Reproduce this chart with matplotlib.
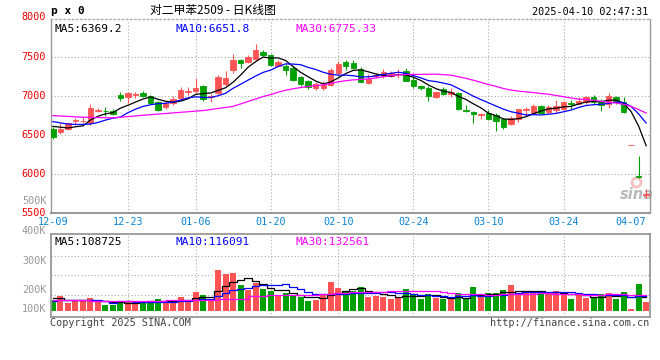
import matplotlib
matplotlib.use("Agg")
import matplotlib.pyplot as plt
import numpy as np
import pandas as pd

plt.rcParams["font.family"] = ["DejaVu Sans Mono"]

# trading days shown in the window
holidays = ["2025-01-01", "2025-01-28", "2025-01-29", "2025-01-30", "2025-01-31",
            "2025-02-03", "2025-02-04", "2025-04-04"]
tick_dates = ["12-09", "12-23", "01-06", "01-20", "02-10", "02-24", "03-10", "03-24", "04-07"]
price_ticks = [5500, 6000, 6500, 7000, 7500, 8000]

opens = [6577, 6543, 6577, 6680, 6680, 6650, 6800, 6810, 6812, 7013,
         6980, 7015, 7034, 7000, 6927, 6855, 6906, 6970, 7050, 7056,
         7120, 6990, 7034, 7150, 7333, 7453, 7427, 7474, 7555, 7525,
         7384, 7384, 7355, 7240, 7184, 7098, 7098, 7141, 7290, 7427,
         7418, 7342, 7162, 7248, 7248, 7256, 7275, 7312, 7205, 7128,
         7098, 6983, 7085, 7021, 7034, 6820, 6795, 6760, 6786, 6752,
         6700, 6637, 6700, 6825, 6778, 6872, 6795, 6820, 6838, 6906,
         6902, 6915, 6979, 6936, 6893, 6991, 6915, 6372, 5975, 5738]
highs = [6607, 6650, 6658, 6722, 6730, 6893, 6842, 6863, 6829, 7055,
         7055, 7055, 7064, 7013, 6936, 6927, 7000, 7107, 7107, 7226,
         7141, 7021, 7270, 7312, 7538, 7474, 7525, 7666, 7590, 7538,
         7453, 7410, 7376, 7256, 7196, 7171, 7184, 7355, 7440, 7461,
         7453, 7367, 7277, 7290, 7342, 7315, 7342, 7355, 7240, 7141,
         7120, 7055, 7107, 7094, 7043, 6880, 6808, 6778, 6816, 6786,
         6722, 6744, 6838, 6859, 6893, 6885, 6880, 6944, 6936, 6944,
         6979, 7000, 7009, 6957, 7034, 7000, 6991, 6378, 6235, 5810]
lows = [6449, 6508, 6564, 6628, 6650, 6628, 6790, 6748, 6756, 6936,
        6906, 6970, 6979, 6893, 6812, 6829, 6885, 6949, 7013, 7034,
        6940, 6927, 7021, 7120, 7290, 7355, 7418, 7461, 7504, 7376,
        7376, 7269, 7192, 7128, 7090, 7068, 7077, 7128, 7269, 7324,
        7342, 7171, 7154, 7226, 7226, 7240, 7226, 7184, 7098, 7077,
        6940, 6970, 7013, 6979, 6821, 6795, 6658, 6700, 6688, 6551,
        6573, 6624, 6671, 6748, 6765, 6765, 6765, 6778, 6808, 6829,
        6893, 6902, 6893, 6808, 6842, 6893, 6778, 6372, 5955, 5695]
closes = [6479, 6577, 6650, 6690, 6685, 6850, 6820, 6805, 6770, 6970,
          7034, 7021, 7000, 6906, 6820, 6906, 6962, 7068, 7056, 7098,
          6962, 6995, 7235, 7226, 7453, 7418, 7495, 7590, 7517, 7390,
          7427, 7324, 7205, 7150, 7107, 7154, 7141, 7333, 7410, 7384,
          7355, 7171, 7213, 7269, 7303, 7290, 7280, 7192, 7120, 7098,
          7004, 7047, 7021, 7051, 6838, 6812, 6765, 6768, 6710, 6680,
          6607, 6722, 6829, 6829, 6872, 6778, 6859, 6872, 6915, 6898,
          6936, 6979, 6927, 6880, 7000, 6936, 6795, 6378, 5965, 5742]
volumes = [89000, 118000, 63000, 84000, 84000, 102000, 71000, 47000, 47000, 71000,
           81000, 71000, 76000, 76000, 95000, 71000, 84000, 110000, 89000, 150000,
           126000, 89000, 323000, 292000, 299000, 207000, 165000, 223000, 173000, 158000,
           118000, 142000, 118000, 110000, 79000, 87000, 126000, 229000, 181000, 158000,
           158000, 189000, 110000, 118000, 110000, 95000, 102000, 173000, 126000, 95000,
           134000, 102000, 95000, 91000, 142000, 95000, 189000, 110000, 142000, 142000,
           165000, 205000, 134000, 150000, 142000, 142000, 142000, 158000, 134000, 95000,
           126000, 102000, 110000, 134000, 142000, 95000, 150000, 16000, 213000, 71000]

# moving-average values before each window fills
ma5_head = [6610, 6600, 6590, 6605]
ma10_head = [6671, 6655, 6640, 6635, 6635, 6640, 6660, 6690, 6715]
ma30_head_idx = [0, 4, 8, 12, 16, 20, 24, 28]
ma30_head = [6748, 6727, 6718, 6752, 6782, 6812, 6865, 6991]
vma5_head = [100000, 105000, 89000, 89000]
vma10_head = [79000, 84000, 84000, 84000, 84000, 84000, 84000, 75000, 67000]
vma30_head_idx = [0, 10, 20, 24, 28]
vma30_head = [84000, 81000, 84000, 97000, 116000]

RED = "#ff5454"
GREEN = "#00a000"
GRID = "#aaaaaa"
FRAME = "#999999"

days = pd.bdate_range("2024-12-09", "2025-04-09")
days = days[~days.isin(pd.to_datetime(holidays))]
day_labels = list(days.strftime("%m-%d"))
tick_idx = [day_labels.index(d) for d in tick_dates]

frame = pd.DataFrame({"open": opens, "high": highs, "low": lows,
                      "close": closes, "volume": volumes})
x = np.arange(len(frame))
colors = np.where(frame["close"] >= frame["open"], RED, GREEN)


def ma_series(values, window, head, head_idx=None):
    rolled = values.rolling(window).mean().to_numpy()
    if head_idx is None:
        head_idx = list(range(len(head)))
    xs = list(head_idx) + list(range(window - 1, len(values)))
    ys = list(head) + list(rolled[window - 1:])
    return xs, ys


fig = plt.figure(figsize=(6.6, 3.6), dpi=100)
W, H = 660.0, 360.0
ax = fig.add_axes([51 / W, 1 - 213.4 / H, 598.5 / W, 194.4 / H])
vax = fig.add_axes([51 / W, 1 - 317.3 / H, 598.5 / W, 83 / H])

# ---- price panel
ax.set_xlim(-0.25, len(frame) - 0.55)
ax.set_ylim(5500, 7980)
for p in price_ticks[1:-1]:
    ax.axhline(p, color=GRID, lw=0.8, ls=(0, (1, 2)), zorder=0)
for i in tick_idx[1:-1]:
    ax.axvline(i, color=GRID, lw=0.8, ls=(0, (1, 2)), zorder=0)
    vax.axvline(i, color=GRID, lw=0.8, ls=(0, (1, 2)), zorder=0)

# sina watermark
ax.text(len(frame) - 2.2, 5640, "sina", color="#a8a8a8", fontsize=10.5,
        fontweight="bold", style="italic", family="DejaVu Sans",
        ha="center", va="bottom", alpha=0.8, zorder=1)
ax.plot([len(frame) - 2.4], [5905], marker="o", ms=6.5, mfc="none",
        mec="#f4b0b0", mew=2, alpha=0.8, zorder=1)

ax.vlines(x, frame["low"], frame["high"], colors=colors, lw=0.8, zorder=3)
ax.bar(x, frame["close"] - frame["open"], bottom=frame["open"], width=0.72,
       color=colors, edgecolor=colors, linewidth=0.6, zorder=3)

for window, head, hidx, col in [(5, ma5_head, None, "black"),
                                (10, ma10_head, None, "#0000ff"),
                                (30, ma30_head, ma30_head_idx, "#ff00ff")]:
    xs, ys = ma_series(frame["close"], window, head, hidx)
    ax.plot(xs, ys, color=col, lw=0.9, zorder=4)

ax.set_xticks([])
ax.set_yticks([])
for s in ax.spines.values():
    s.set_color(FRAME)
    s.set_linewidth(1.0)
ax.spines["top"].set_linestyle((0, (1, 2)))
ax.spines["top"].set_color(GRID)
ax.spines["bottom"].set_linewidth(1.5)

for p in price_ticks:
    ax.text(-0.008, p, str(p), transform=ax.get_yaxis_transform(),
            color="#ee0000", fontsize=7.3, ha="right", va="center",
            clip_on=False)
for i, lab in zip(tick_idx, tick_dates):
    ax.text(i, -0.043, lab, transform=ax.get_xaxis_transform(),
            color="#0a84d6", fontsize=7.3, ha="center", va="center")

ax.text(0.006, 0.975, "MA5:6369.2", transform=ax.transAxes, color="black",
        fontsize=8, ha="left", va="top")
ax.text(0.208, 0.975, "MA10:6651.8", transform=ax.transAxes, color="#0000ff",
        fontsize=8, ha="left", va="top")
ax.text(0.409, 0.975, "MA30:6775.33", transform=ax.transAxes, color="#ff00ff",
        fontsize=8, ha="left", va="top")

# ---- volume panel
vax.set_xlim(ax.get_xlim())
vax.set_ylim(-49600, 604400)
for g in [128000, 281000, 433000]:
    vax.axhline(g, color=GRID, lw=0.8, ls=(0, (1, 2)), zorder=0)
vax.bar(x, frame["volume"], width=0.8, color=colors, zorder=2)
for window, head, hidx, col in [(5, vma5_head, None, "black"),
                                (10, vma10_head, None, "#0000ff"),
                                (30, vma30_head, vma30_head_idx, "#ff00ff")]:
    xs, ys = ma_series(frame["volume"], window, head, hidx)
    vax.plot(xs, ys, color=col, lw=0.9, drawstyle="steps-mid", zorder=3)
vax.set_xticks([])
vax.set_yticks([])
for s in vax.spines.values():
    s.set_color(FRAME)
    s.set_linewidth(1.3)

vax.text(0.006, 0.97, "MA5:108725", transform=vax.transAxes, color="black",
         fontsize=8, ha="left", va="top")
vax.text(0.208, 0.97, "MA10:116091", transform=vax.transAxes, color="#0000ff",
         fontsize=8, ha="left", va="top")
vax.text(0.409, 0.97, "MA30:132561", transform=vax.transAxes, color="#ff00ff",
         fontsize=8, ha="left", va="top")

for lab, ypx in [("500K", 200.7), ("400K", 230.7), ("300K", 260.7),
                 ("200K", 290.3), ("100K", 309.5)]:
    fig.text(46.5 / W, 1 - ypx / H, lab, color="#999999", fontsize=7.3,
             ha="right", va="center")

# ---- header / footer
fig.text(51 / W, 1 - 11.5 / H, "p x 0", fontsize=8, fontweight="bold",
         ha="left", va="center", color="black")
fig.text(213 / W, 1 - 10.5 / H, "对二甲苯2509 - 日K线图", fontsize=8.5,
         family=["Noto Sans CJK SC", "DejaVu Sans"], ha="center", va="center",
         color="black")
fig.text(648 / W, 1 - 11.7 / H, "2025-04-10 02:47:31", fontsize=7.3,
         ha="right", va="center", color="black")
fig.text(50 / W, 1 - 323.5 / H, "Copyright 2025 SINA.COM", fontsize=7.3,
         ha="left", va="center", color="#444444")
fig.text(649 / W, 1 - 323.5 / H, "http://finance.sina.com.cn", fontsize=7.3,
         ha="right", va="center", color="#444444")

fig.savefig("out.png", dpi=100)
